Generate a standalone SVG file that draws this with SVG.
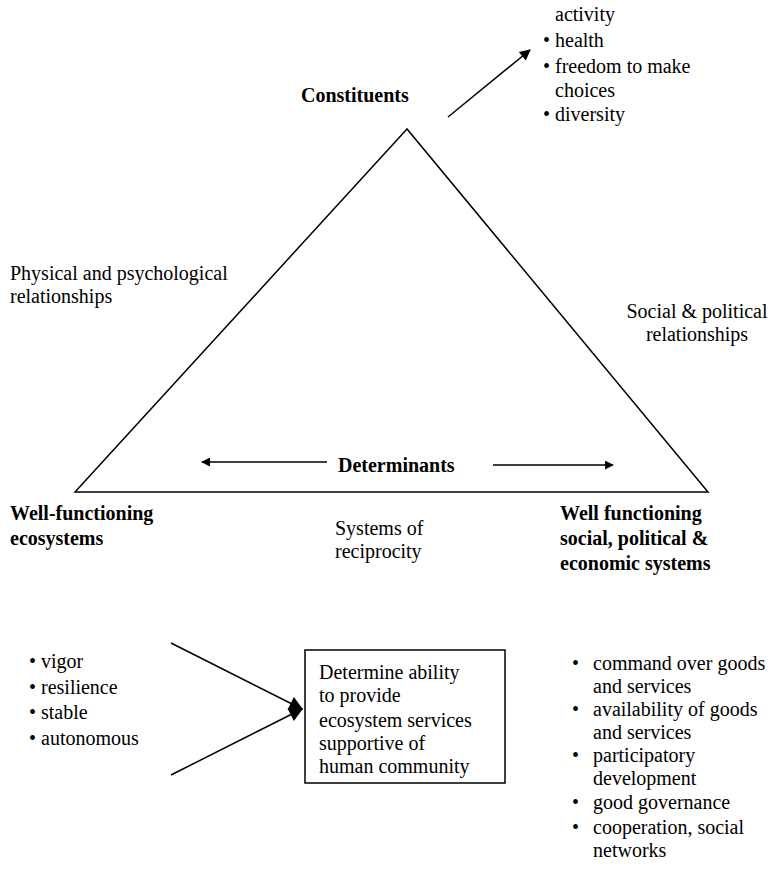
<svg xmlns="http://www.w3.org/2000/svg" width="778" height="871" viewBox="0 0 778 871">
  <defs>
    <style>
      text { font-family: "Liberation Serif", "Times New Roman", serif; font-size: 20px; fill: #000; }
      .b { font-weight: bold; }
      .ln { stroke: #000; stroke-width: 1.5; fill: none; }
    </style>
    <marker id="head" viewBox="0 0 10 10" refX="9" refY="5" markerWidth="9" markerHeight="9" orient="auto" markerUnits="userSpaceOnUse">
      <path d="M0,0 L10,5 L0,10 Z" fill="#000"/>
    </marker>
    <marker id="headMid" viewBox="0 0 10 10" refX="9" refY="5" markerWidth="13" markerHeight="11" orient="auto" markerUnits="userSpaceOnUse">
      <path d="M0,0 L10,5 L0,10 Z" fill="#000"/>
    </marker>
    <marker id="headBig" viewBox="0 0 10 10" refX="9" refY="5" markerWidth="16" markerHeight="14" orient="auto" markerUnits="userSpaceOnUse">
      <path d="M0,0 L10,5 L0,10 Z" fill="#000"/>
    </marker>
  </defs>
  <rect width="778" height="871" fill="#fff"/>

  <!-- central triangle -->
  <g id="triangle">
    <path class="ln" d="M407,129 L75,492 L708,492 Z"/>
  </g>

  <g id="constituents">
    <text class="b" x="301" y="102">Constituents</text>
  </g>

  <g id="constituent-list">
    <text x="555" y="21">activity</text>
    <text x="543" y="47">• health</text>
    <text x="543" y="73">• freedom to make</text>
    <text x="555" y="97">choices</text>
    <text x="543" y="121">• diversity</text>
  </g>

  <g id="physical">
    <text x="10" y="280">Physical and psychological</text>
    <text x="10" y="303">relationships</text>
  </g>

  <g id="social">
    <text x="697" y="318" text-anchor="middle">Social &amp; political</text>
    <text x="697" y="341" text-anchor="middle">relationships</text>
  </g>

  <g id="determinants">
    <text class="b" x="338" y="472">Determinants</text>
  </g>

  <g id="ecosystems">
    <text class="b" x="10" y="520">Well-functioning</text>
    <text class="b" x="10" y="545">ecosystems</text>
  </g>

  <g id="reciprocity">
    <text x="335" y="535">Systems of</text>
    <text x="335" y="558">reciprocity</text>
  </g>

  <g id="social-systems">
    <text class="b" x="560" y="520">Well functioning</text>
    <text class="b" x="560" y="545">social, political &amp;</text>
    <text class="b" x="560" y="570">economic systems</text>
  </g>

  <g id="ecosystem-traits">
    <text x="29" y="668">• vigor</text>
    <text x="29" y="694">• resilience</text>
    <text x="29" y="719">• stable</text>
    <text x="29" y="745">• autonomous</text>
  </g>

  <g id="ability-box">
    <rect class="ln" x="305" y="650" width="200" height="133"/>
    <text x="319" y="679">Determine ability</text>
    <text x="319" y="702">to provide</text>
    <text x="319" y="727">ecosystem services</text>
    <text x="319" y="750">supportive of</text>
    <text x="319" y="773">human community</text>
  </g>

  <g id="social-traits">
    <text x="572" y="670">•</text>
    <text x="593" y="670">command over goods</text>
    <text x="593" y="693">and services</text>
    <text x="572" y="716">•</text>
    <text x="593" y="716">availability of goods</text>
    <text x="593" y="739">and services</text>
    <text x="572" y="762">•</text>
    <text x="593" y="762">participatory</text>
    <text x="593" y="785">development</text>
    <text x="572" y="809">•</text>
    <text x="593" y="809">good governance</text>
    <text x="572" y="834">•</text>
    <text x="593" y="834">cooperation, social</text>
    <text x="593" y="857">networks</text>
  </g>

  <!-- connectors -->
  <g id="connectors">
    <line class="ln" x1="448" y1="117" x2="530" y2="50" marker-end="url(#headMid)"/>
    <line class="ln" x1="327" y1="462" x2="202" y2="462" marker-end="url(#head)"/>
    <line class="ln" x1="493" y1="465" x2="613" y2="465" marker-end="url(#head)"/>
    <line class="ln" x1="171" y1="643" x2="302" y2="709" marker-end="url(#headBig)"/>
    <line class="ln" x1="171" y1="775" x2="302" y2="709" marker-end="url(#headBig)"/>
  </g>
</svg>
